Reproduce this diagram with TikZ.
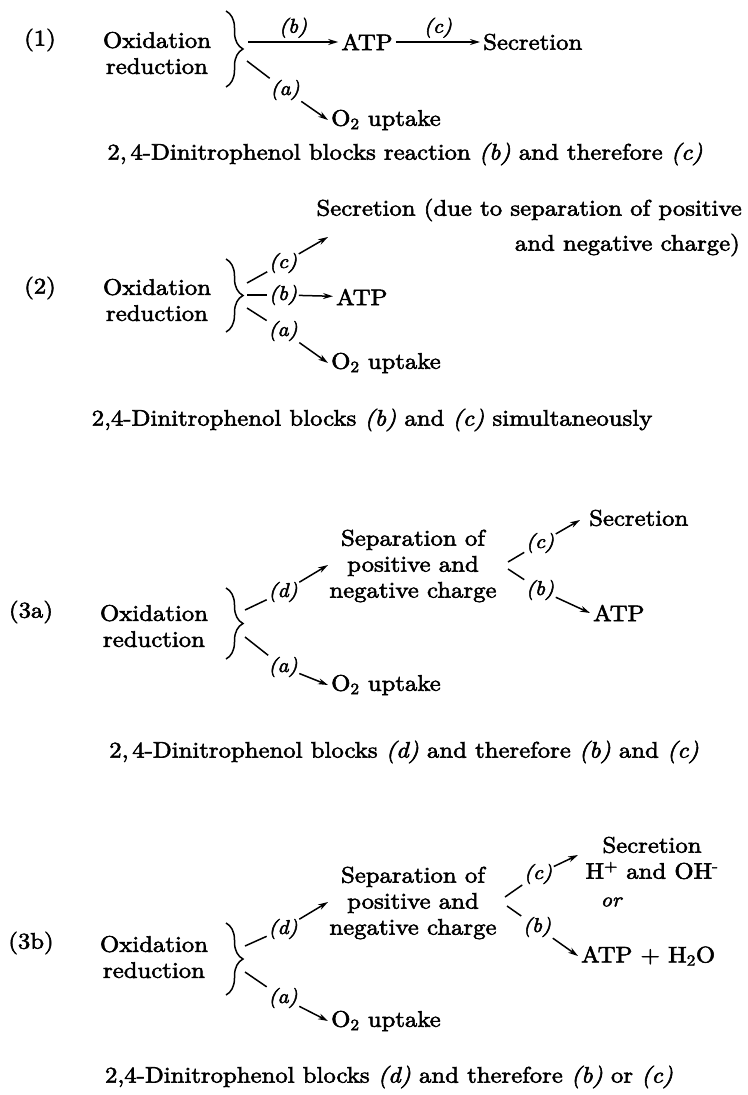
\documentclass[tikz,border=0pt]{standalone}
\usepackage{fontspec}
\setmainfont{lmroman10}[Extension=.otf, UprightFont=*-regular, ItalicFont=*-italic, BoldFont=*-bold, BoldItalicFont=*-bolditalic, FakeStretch=1.1, RawFeature={embolden=2.5}]
\usetikzlibrary{arrows.meta,decorations.pathreplacing}
\begin{document}
\begin{tikzpicture}[x=1pt,y=-1pt,
  txt/.style={inner sep=3pt, font=\fontsize{22.5}{26}\selectfont, align=center},
  lab/.style={inner sep=1.5pt, font=\fontsize{20}{22}\selectfont\itshape},
  ln/.style={line width=1.5pt},
  arr/.style={line width=1.5pt, -{Stealth[length=10pt,width=6pt]}},
  brc/.style={line width=1.5pt, decorate, decoration={brace, amplitude=17pt}}]
\useasboundingbox (0,0) rectangle (747,1095);

% ---------- (1) ----------
\node[txt] (n1) at (40,40) {(1)};
\node[txt] (ox1) at (157,53) {Oxidation\\reduction};
\draw[brc] (226,11) -- (226,87);
\coordinate (b1s) at (248,42);
\node[txt] (atp1) at (367,42) {ATP};
\draw[arr] (b1s) -- node[lab, above=2pt] (lb1) {(b)} (atp1);
\node[txt, anchor=west] (sec1) at (480,42) {Secretion};
\draw[arr] (atp1) -- node[lab, above=2pt] (lc1) {(c)} (sec1);
\coordinate (a1s) at (247,61);
\node[lab] (la1) at (285,90) {(a)};
\node[txt, anchor=west] (o1) at (328,120) {O\textsubscript{2} uptake};
\draw[ln] (a1s) -- (la1);
\draw[arr] (la1) -- (o1.west);
\node[txt] (cap1) at (405,154) {2,\,4-Dinitrophenol blocks reaction \textit{(b)} and therefore \textit{(c)}};

% ---------- (2) ----------
\node[txt, anchor=east] (sec2) at (745,210) {Secretion (due to separation of positive};
\node[txt, anchor=east] (sec2b) at (743,245) {and negative charge)};
\node[txt] (n2) at (40,288) {(2)};
\node[txt] (ox2) at (157,300) {Oxidation\\reduction};
\draw[brc] (226,259) -- (226,332);
\coordinate (c2s) at (247,283);
\node[lab] (lc2) at (283,263) {(c)};
\coordinate (c2e) at (328,237);
\draw[ln] (c2s) -- (lc2);
\draw[arr] (lc2) -- (c2e);
\coordinate (b2s) at (247,295);
\node[lab] (lb2) at (283,295) {(b)};
\node[txt, anchor=west] (atp2) at (333,297) {ATP};
\draw[ln] (b2s) -- (lb2);
\draw[arr] (lb2) -- (atp2);
\coordinate (a2s) at (247,308);
\node[lab] (la2) at (283,331) {(a)};
\node[txt, anchor=west] (o2) at (328,363) {O\textsubscript{2} uptake};
\draw[ln] (a2s) -- (la2);
\draw[arr] (la2) -- (o2.west);
\node[txt] (cap2) at (372,420) {2,4-Dinitrophenol blocks \textit{(b)} and \textit{(c)} simultaneously};

% ---------- (3a) ----------
\node[txt] (n3a) at (31,612) {(3a)};
\node[txt] (ox3a) at (154,626) {Oxidation\\reduction};
\draw[brc] (226,588) -- (226,659);
\node[txt] (sep3a) at (413,566) {Separation of\\positive and\\negative charge};
\coordinate (d3as) at (245,610);
\node[lab] (ld3a) at (283,592) {(d)};
\coordinate (d3ae) at (328,565);
\draw[ln] (d3as) -- (ld3a);
\draw[arr] (ld3a) -- (d3ae);
\coordinate (a3as) at (245,637);
\node[lab] (la3a) at (283,667) {(a)};
\node[txt, anchor=west] (o3a) at (328,685) {O\textsubscript{2} uptake};
\draw[ln] (a3as) -- (la3a);
\draw[arr] (la3a) -- (o3a.west);
\coordinate (c3as) at (508,562);
\node[lab] (lc3a) at (540,543) {(c)};
\coordinate (c3ae) at (580,520);
\node[txt, anchor=west] (sec3a) at (586,518) {Secretion};
\draw[ln] (c3as) -- (lc3a);
\draw[arr] (lc3a) -- (c3ae);
\coordinate (b3as) at (508,569);
\node[lab] (lb3a) at (540,590) {(b)};
\node[txt, anchor=west] (atp3a) at (590,613) {ATP};
\draw[ln] (b3as) -- (lb3a);
\draw[arr] (lb3a) -- (atp3a.west);
\node[txt] (cap3a) at (404,752) {2,\,4-Dinitrophenol blocks \textit{(d)} and therefore \textit{(b)} and \textit{(c)}};

% ---------- (3b) ----------
\node[txt] (n3b) at (31,943) {(3b)};
\node[txt] (ox3b) at (154,957) {Oxidation\\reduction};
\draw[brc] (226,923) -- (226,995);
\node[txt] (sep3b) at (413,903) {Separation of\\positive and\\negative charge};
\coordinate (d3bs) at (245,946);
\node[lab] (ld3b) at (283,929) {(d)};
\coordinate (d3be) at (328,902);
\draw[ln] (d3bs) -- (ld3b);
\draw[arr] (ld3b) -- (d3be);
\coordinate (a3bs) at (245,972);
\node[lab] (la3b) at (283,998) {(a)};
\node[txt, anchor=west] (o3b) at (328,1021) {O\textsubscript{2} uptake};
\draw[ln] (a3bs) -- (la3b);
\draw[arr] (la3b) -- (o3b.west);
\coordinate (c3bs) at (505,897);
\node[lab] (lc3b) at (538,874) {(c)};
\coordinate (c3be) at (578,855);
\node[txt] (sec3b) at (652,858) {Secretion\\H\textsuperscript{+} and OH\textsuperscript{-}};
\node[lab] (or3b) at (611,902) {or};
\draw[ln] (c3bs) -- (lc3b);
\draw[arr] (lc3b) -- (c3be);
\coordinate (b3bs) at (507,906);
\node[lab] (lb3b) at (537,927) {(b)};
\node[txt, anchor=west] (atp3b) at (578,956) {ATP + H\textsubscript{2}O};
\draw[ln] (b3bs) -- (lb3b);
\draw[arr] (lb3b) -- (atp3b.west);
\node[txt] (cap3b) at (389,1077) {2,4-Dinitrophenol blocks \textit{(d)} and therefore \textit{(b)} or \textit{(c)}};
\end{tikzpicture}
\end{document}
